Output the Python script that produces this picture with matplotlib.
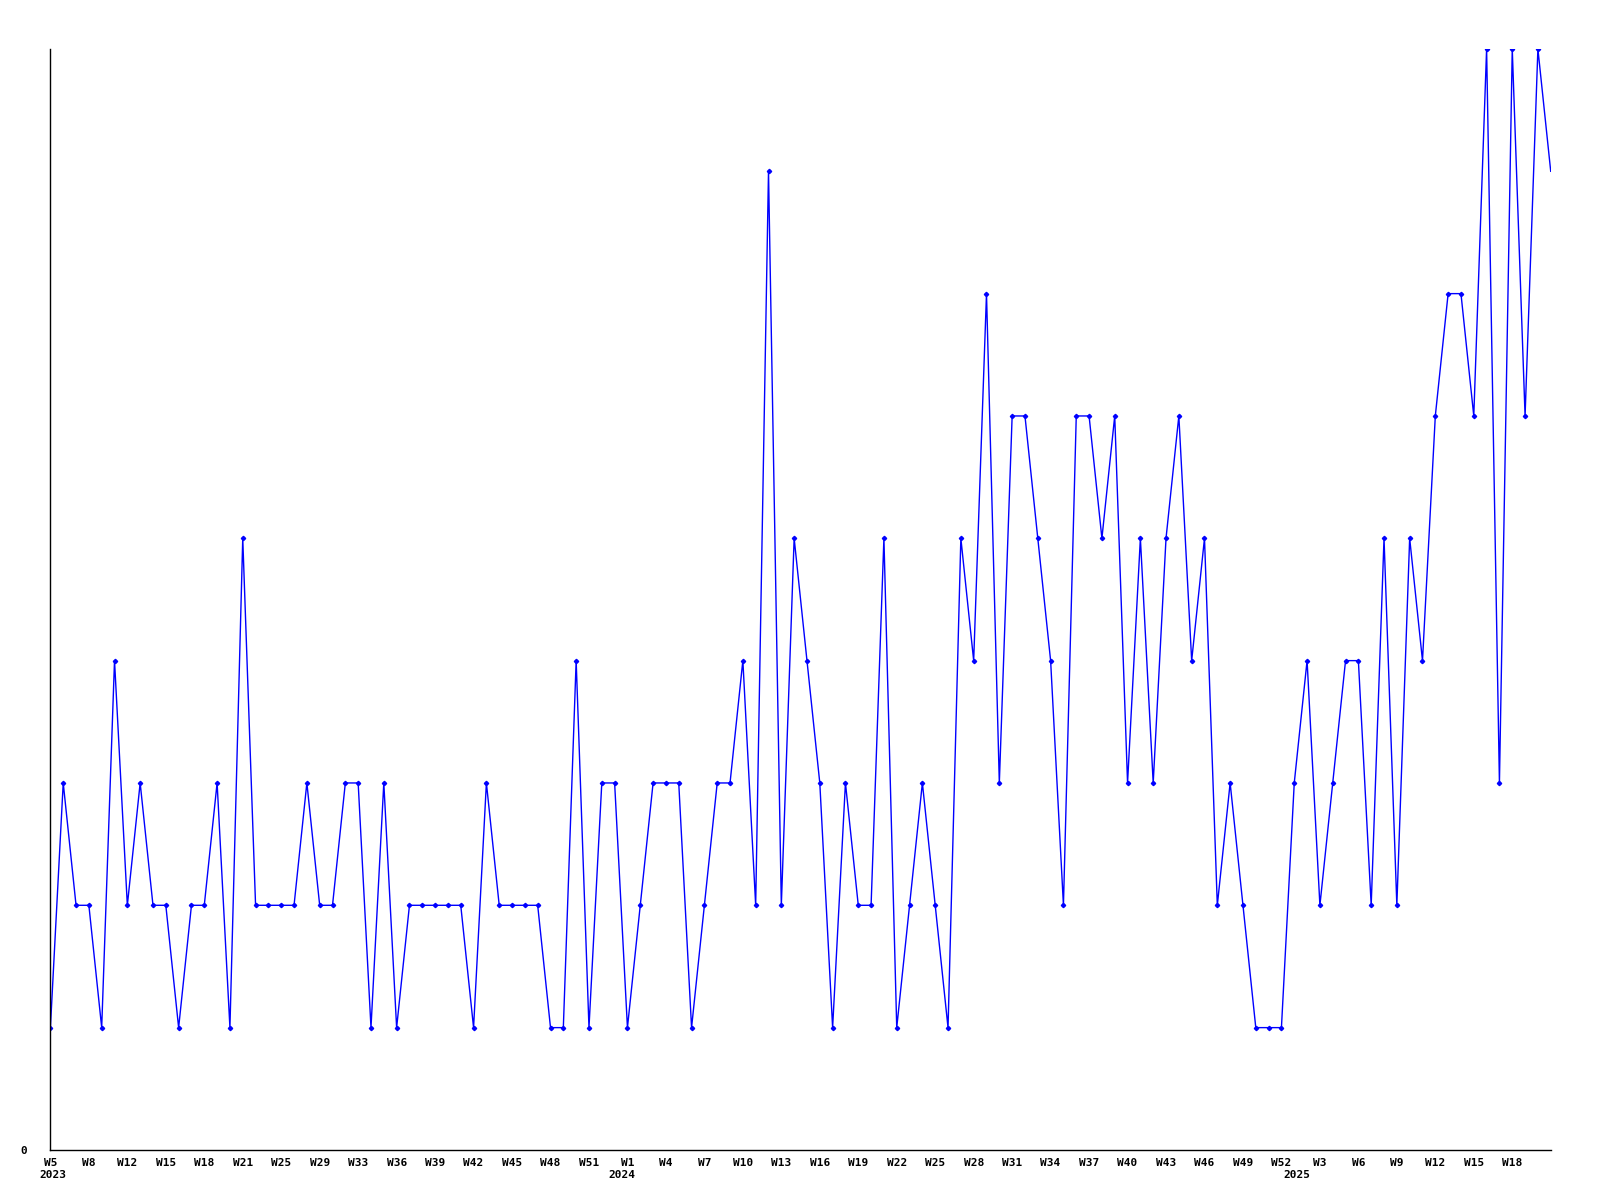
import matplotlib
matplotlib.use("Agg")
import matplotlib.pyplot as plt
import matplotlib.transforms as mtransforms

# weekly counts, 2023 W5 .. 2025
counts = [1, 3, 2, 2, 1, 4, 2, 3, 2, 2,
          1, 2, 2, 3, 1, 5, 2, 2, 2, 2,
          3, 2, 2, 3, 3, 1, 3, 1, 2, 2,
          2, 2, 2, 1, 3, 2, 2, 2, 2, 1,
          1, 4, 1, 3, 3, 1, 2, 3, 3, 3,
          1, 2, 3, 3, 4, 2, 8, 2, 5, 4,
          3, 1, 3, 2, 2, 5, 1, 2, 3, 2,
          1, 5, 4, 7, 3, 6, 6, 5, 4, 2,
          6, 6, 5, 6, 3, 5, 3, 5, 6, 4,
          5, 2, 3, 2, 1, 1, 1, 3, 4, 2,
          3, 4, 4, 2, 5, 2, 5, 4, 6, 7,
          7, 6, 9, 3, 9, 6, 9, 8]

week_labels = ["W5", "W8", "W12", "W15", "W18", "W21", "W25", "W29", "W33",
               "W36", "W39", "W42", "W45", "W48", "W51",
               "W1", "W4", "W7", "W10", "W13", "W16", "W19", "W22", "W25",
               "W28", "W31", "W34", "W37", "W40", "W43", "W46", "W49", "W52",
               "W3", "W6", "W9", "W12", "W15", "W18"]
label_step = 3

years = ["2023", "2024", "2025"]
year_pos = [0.2, 44.6, 97.2]

x = list(range(len(counts)))

fig = plt.figure(figsize=(16, 12), dpi=100)
ax = fig.add_axes([0.0315, 0.0417, 0.9377, 0.9175])

ax.plot(x, counts, color="#0000ff", linewidth=1.0, marker="D", markersize=2.2,
        markevery=list(range(len(counts) - 1)), clip_on=True)

ax.set_xlim(0, len(counts) - 1)
ax.set_ylim(0, 9)

ax.spines["top"].set_visible(False)
ax.spines["right"].set_visible(False)
ax.spines["left"].set_linewidth(1.0)
ax.spines["bottom"].set_linewidth(1.0)

ax.set_xticks([i * label_step for i in range(len(week_labels))])
ax.set_xticklabels(week_labels, family="DejaVu Sans Mono", fontweight="bold", fontsize=8)
ax.set_yticks([0])
ax.set_yticklabels(["0"], family="DejaVu Sans Mono", fontweight="bold", fontsize=8)
ax.tick_params(axis="x", length=0, pad=6)
ax.tick_params(axis="y", length=0, pad=17)

trans = mtransforms.blended_transform_factory(ax.transData, ax.transAxes)
for yr, pos in zip(years, year_pos):
    ax.text(pos, -0.018, yr, transform=trans, ha="center", va="top",
            family="DejaVu Sans Mono", fontweight="bold", fontsize=8)

fig.savefig("out.png", dpi=100)
